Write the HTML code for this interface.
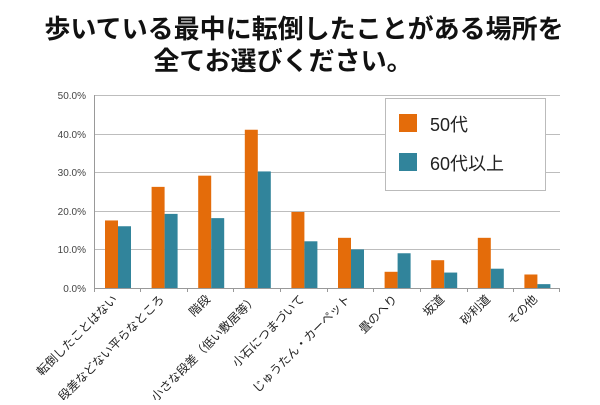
<!DOCTYPE html>
<html><head><meta charset="utf-8"><style>
body{margin:0;background:#fff;}
svg text{font-family:"Liberation Sans","Noto Sans CJK JP",sans-serif;}
</style></head><body>
<svg width="600" height="400" viewBox="0 0 600 400" xmlns="http://www.w3.org/2000/svg">
<text x="304" y="38" font-size="26" font-weight="bold" text-anchor="middle" fill="#111">歩いている最中に転倒したことがある場所を</text>
<text x="283" y="70" font-size="26" font-weight="bold" text-anchor="middle" fill="#111">全てお選びください。</text>
<g stroke="#bdbdbd" stroke-width="1">
<line x1="94" y1="95.5" x2="560" y2="95.5"/>
<line x1="94" y1="134.5" x2="560" y2="134.5"/>
<line x1="94" y1="172.5" x2="560" y2="172.5"/>
<line x1="94" y1="211.5" x2="560" y2="211.5"/>
<line x1="94" y1="249.5" x2="560" y2="249.5"/>
<line x1="94" y1="288.5" x2="560" y2="288.5" stroke="#999"/>
<line x1="94.5" y1="95" x2="94.5" y2="292" stroke="#999"/>
</g>
<g stroke="#999">
<line x1="140.5" y1="288" x2="140.5" y2="292"/><line x1="187.5" y1="288" x2="187.5" y2="292"/><line x1="233.5" y1="288" x2="233.5" y2="292"/><line x1="280.5" y1="288" x2="280.5" y2="292"/><line x1="327.5" y1="288" x2="327.5" y2="292"/><line x1="373.5" y1="288" x2="373.5" y2="292"/><line x1="420.5" y1="288" x2="420.5" y2="292"/><line x1="467.5" y1="288" x2="467.5" y2="292"/><line x1="513.5" y1="288" x2="513.5" y2="292"/><line x1="559.5" y1="288" x2="559.5" y2="292"/>
</g>
<g font-size="10" fill="#444" text-anchor="end">
<text x="86" y="99">50.0%</text><text x="86" y="138">40.0%</text><text x="86" y="176">30.0%</text><text x="86" y="215">20.0%</text><text x="86" y="253">10.0%</text><text x="86" y="292">0.0%</text>
</g>
<g fill="#E46C0A">
<rect x="105" y="220.45" width="13" height="67.55"/>
<rect x="151.6" y="186.87" width="13" height="101.13"/>
<rect x="198.2" y="175.67" width="13" height="112.33"/>
<rect x="244.8" y="129.74" width="13" height="158.26"/>
<rect x="291.4" y="211.96" width="13" height="76.04"/>
<rect x="338" y="237.82" width="13" height="50.18"/>
<rect x="384.6" y="271.79" width="13" height="16.21"/>
<rect x="431.2" y="260.21" width="13" height="27.79"/>
<rect x="477.8" y="237.82" width="13" height="50.18"/>
<rect x="524.4" y="274.49" width="13" height="13.51"/>
</g>
<g fill="#31849B">
<rect x="118" y="226.24" width="13" height="61.76"/>
<rect x="164.6" y="213.89" width="13" height="74.11"/>
<rect x="211.2" y="218.13" width="13" height="69.87"/>
<rect x="257.8" y="171.43" width="13" height="116.57"/>
<rect x="304.4" y="241.29" width="13" height="46.71"/>
<rect x="351" y="249.4" width="13" height="38.6"/>
<rect x="397.6" y="253.26" width="13" height="34.74"/>
<rect x="444.2" y="272.56" width="13" height="15.44"/>
<rect x="490.8" y="268.7" width="13" height="19.3"/>
<rect x="537.4" y="284.14" width="13" height="3.86"/>
</g>
<g font-size="12" fill="#222" text-anchor="end">
<text transform="translate(118,300) rotate(-45)">転倒したことはない</text>
<text transform="translate(165,300) rotate(-45)">段差などない平らなところ</text>
<text transform="translate(211,300) rotate(-45)">階段</text>
<text transform="translate(258,300) rotate(-45)">小さな段差（低い敷居等）</text>
<text transform="translate(305,300) rotate(-45)">小石につまづいて</text>
<text transform="translate(351,300) rotate(-45)">じゅうたん・カーペット</text>
<text transform="translate(398,300) rotate(-45)">畳のへり</text>
<text transform="translate(445,300) rotate(-45)">坂道</text>
<text transform="translate(491,300) rotate(-45)">砂利道</text>
<text transform="translate(538,300) rotate(-45)">その他</text>
</g>
<rect x="385.5" y="98.5" width="160" height="92" fill="#fff" stroke="#bbb"/>
<rect x="399" y="114" width="18" height="18" fill="#E46C0A"/>
<text x="430" y="131" font-size="18" fill="#222">50代</text>
<rect x="399" y="153" width="18" height="18" fill="#31849B"/>
<text x="430" y="170" font-size="18" fill="#222">60代以上</text>
</svg>
</body></html>
